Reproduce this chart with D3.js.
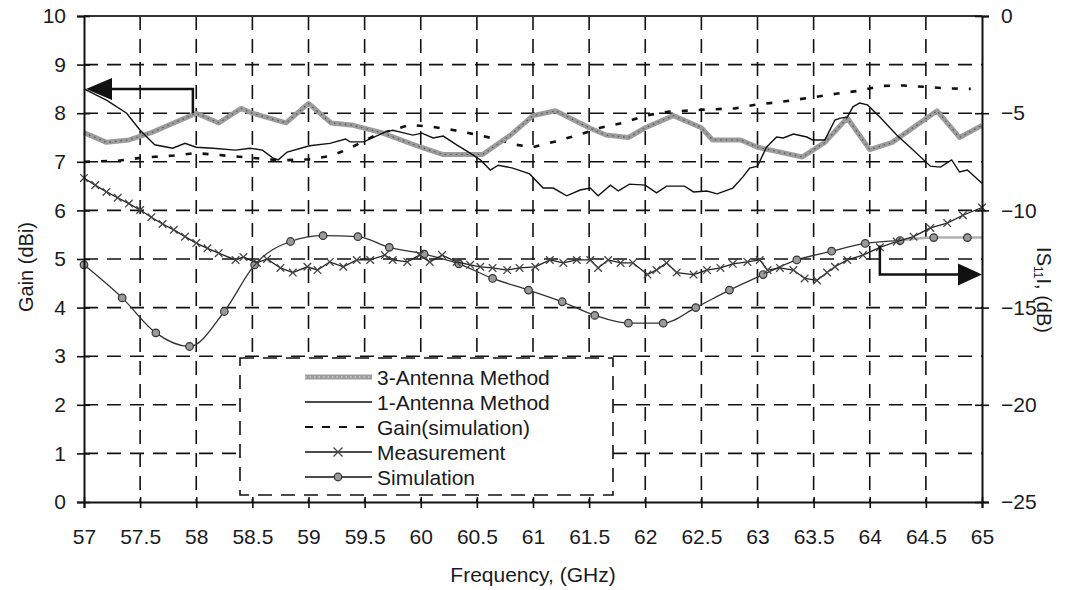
<!DOCTYPE html>
<html>
<head>
<meta charset="utf-8">
<script src="https://cdn.jsdelivr.net/npm/d3@7/dist/d3.min.js"></script>
<style>
  html, body { margin: 0; padding: 0; background: #fff; }
  svg { display: block; }
  text { font-family: "Liberation Sans", Arial, sans-serif; fill: #1a1a22; }
</style>
</head>
<body>
<svg id="chart" width="1067" height="590"></svg>
<script>
// ---------- data ----------
const xTicks = [57, 57.5, 58, 58.5, 59, 59.5, 60, 60.5, 61, 61.5, 62, 62.5, 63, 63.5, 64, 64.5, 65];
const gainTicks = [0, 1, 2, 3, 4, 5, 6, 7, 8, 9, 10];
const s11Ticks = [-25, -20, -15, -10, -5, 0];

// 3-Antenna Method (gain, dBi)
const freq3Ant = [57.0, 57.2, 57.4, 57.6, 58.0, 58.2, 58.4, 58.5, 58.8, 59.0, 59.2, 59.4, 59.65, 60.0, 60.2, 60.55, 60.8, 61.0, 61.2, 61.5, 61.65, 61.85, 62.0, 62.25, 62.5, 62.6, 62.85, 63.0, 63.4, 63.6, 63.8, 64.0, 64.2, 64.6, 64.8, 65.0];
const gain3Ant = [7.6, 7.4, 7.45, 7.6, 8.0, 7.8, 8.1, 8.0, 7.8, 8.2, 7.8, 7.75, 7.6, 7.3, 7.15, 7.15, 7.55, 7.95, 8.05, 7.7, 7.55, 7.5, 7.7, 7.95, 7.7, 7.45, 7.45, 7.3, 7.1, 7.4, 7.9, 7.25, 7.4, 8.05, 7.5, 7.75];

// 1-Antenna Method (gain, dBi)
const freq1Ant = [57.0, 57.2, 57.38, 57.5, 57.63, 57.79, 57.9, 58.0, 58.15, 58.35, 58.48, 58.59, 58.68, 58.73, 58.81, 59.01, 59.19, 59.33, 59.37, 59.49, 59.57, 59.68, 59.75, 59.82, 59.93, 60.01, 60.11, 60.2, 60.32, 60.44, 60.53, 60.62, 60.69, 60.82, 60.97, 61.09, 61.18, 61.3, 61.42, 61.51, 61.58, 61.69, 61.76, 61.86, 62.0, 62.1, 62.19, 62.35, 62.43, 62.55, 62.64, 62.78, 62.87, 62.93, 63.0, 63.08, 63.17, 63.23, 63.32, 63.44, 63.49, 63.6, 63.69, 63.74, 63.8, 63.85, 63.91, 63.98, 64.09, 64.24, 64.36, 64.54, 64.63, 64.73, 64.8, 64.87, 65.0];
const gain1Ant = [8.5, 8.27, 8.0, 7.65, 7.35, 7.28, 7.38, 7.3, 7.28, 7.24, 7.28, 7.24, 7.08, 7.04, 7.2, 7.33, 7.38, 7.47, 7.41, 7.41, 7.49, 7.61, 7.65, 7.61, 7.55, 7.59, 7.49, 7.53, 7.35, 7.18, 7.04, 6.83, 6.93, 6.87, 6.75, 6.46, 6.46, 6.3, 6.42, 6.46, 6.3, 6.52, 6.4, 6.54, 6.52, 6.36, 6.5, 6.5, 6.38, 6.4, 6.34, 6.46, 6.69, 6.87, 6.91, 7.3, 7.51, 7.49, 7.57, 7.51, 7.45, 7.45, 7.86, 7.9, 7.92, 8.13, 8.21, 8.17, 7.92, 7.55, 7.3, 6.91, 6.89, 7.04, 6.79, 6.83, 6.56];

// Gain (simulation) (gain, dBi)
const freqGainSim = [57.0, 57.3, 57.5, 57.8, 58.0, 58.3, 58.5, 58.75, 59.0, 59.2, 59.35, 59.6, 59.9, 60.1, 60.3, 60.45, 60.65, 60.85, 61.0, 61.2, 61.4, 61.6, 61.8, 62.0, 62.2, 62.5, 62.8, 63.0, 63.2, 63.5, 63.7, 63.9, 64.1, 64.3, 64.5, 64.7, 64.9];
const gainSim = [7.0, 7.02, 7.08, 7.13, 7.18, 7.12, 7.08, 7.03, 7.05, 7.12, 7.26, 7.55, 7.76, 7.72, 7.65, 7.58, 7.48, 7.35, 7.3, 7.42, 7.55, 7.7, 7.8, 7.95, 8.03, 8.07, 8.1, 8.18, 8.23, 8.33, 8.4, 8.46, 8.56, 8.57, 8.54, 8.51, 8.5];

// Measurement |S11| (dB)
const freqMeas = [57.0, 57.1, 57.2, 57.3, 57.4, 57.5, 57.6, 57.7, 57.8, 57.9, 58.0, 58.1, 58.2, 58.35, 58.42, 58.54, 58.63, 58.75, 58.86, 58.99, 59.08, 59.19, 59.31, 59.43, 59.55, 59.68, 59.75, 59.88, 59.99, 60.08, 60.19, 60.32, 60.44, 60.53, 60.64, 60.77, 60.88, 61.02, 61.15, 61.27, 61.39, 61.51, 61.58, 61.67, 61.78, 61.89, 62.02, 62.1, 62.19, 62.28, 62.43, 62.55, 62.67, 62.78, 62.91, 63.02, 63.09, 63.2, 63.32, 63.42, 63.53, 63.62, 63.69, 63.8, 63.94, 64.09, 64.24, 64.39, 64.54, 64.69, 64.83, 65.0];
const s11Meas = [-8.33, -8.7, -9.05, -9.35, -9.65, -9.98, -10.35, -10.7, -11.0, -11.35, -11.68, -11.95, -12.2, -12.55, -12.4, -12.7, -12.5, -12.96, -13.2, -12.9, -13.07, -12.65, -12.9, -12.55, -12.55, -12.3, -12.55, -12.65, -12.3, -12.65, -12.3, -12.65, -12.8, -12.9, -12.96, -13.07, -12.96, -12.9, -12.55, -12.7, -12.55, -12.55, -12.96, -12.55, -12.7, -12.7, -13.3, -13.07, -12.7, -13.2, -13.3, -13.07, -12.96, -12.75, -12.65, -12.55, -13.07, -12.96, -13.07, -13.5, -13.6, -13.2, -12.9, -12.55, -12.3, -11.9, -11.6, -11.35, -10.9, -10.65, -10.25, -9.85];

// Simulation |S11| (dB)
const freqSimS11 = [57.0, 57.34, 57.64, 57.94, 58.25, 58.52, 58.84, 59.13, 59.44, 59.72, 60.03, 60.34, 60.64, 60.96, 61.26, 61.55, 61.85, 62.16, 62.45, 62.75, 63.05, 63.35, 63.66, 63.96, 64.27, 64.57, 64.87, 65.0];
const s11Sim = [-12.8, -14.5, -16.3, -17.0, -15.2, -12.8, -11.6, -11.3, -11.35, -11.9, -12.25, -12.75, -13.5, -14.1, -14.7, -15.4, -15.8, -15.8, -15.0, -14.1, -13.3, -12.55, -12.1, -11.7, -11.55, -11.4, -11.4, -11.4];
const simMarkerCount = 27; // last point is line end only

const legendLabels = ["3-Antenna Method", "1-Antenna Method", "Gain(simulation)", "Measurement", "Simulation"];

// ---------- layout ----------
const svg = d3.select("#chart");
const L = 84, R = 982, T = 16, B = 502;
const x = d3.scaleLinear().domain([57, 65]).range([L, R]);
const yG = d3.scaleLinear().domain([0, 10]).range([B, T]);
const yS = d3.scaleLinear().domain([-25, 0]).range([B, T]);

const FONT = 21;
const DASH = "14,9";

// grid
const grid = svg.append("g");
grid.selectAll("line.v").data(xTicks.slice(1, -1)).join("line")
  .attr("x1", d => x(d)).attr("x2", d => x(d)).attr("y1", T).attr("y2", B)
  .attr("stroke", "#111").attr("stroke-width", 1.6).attr("stroke-dasharray", DASH);
grid.selectAll("line.h").data(gainTicks.slice(1, -1)).join("line")
  .attr("y1", d => yG(d)).attr("y2", d => yG(d)).attr("x1", L).attr("x2", R)
  .attr("stroke", "#111").attr("stroke-width", 1.6).attr("stroke-dasharray", DASH);
// top border
svg.append("line").attr("x1", L).attr("x2", R).attr("y1", T).attr("y2", T)
  .attr("stroke", "#333").attr("stroke-width", 2);

// ---------- series ----------
const pts = (fs, vs) => fs.map((f, i) => [f, vs[i]]);
const lineG = d3.line().x(d => x(d[0])).y(d => yG(d[1]));
const lineS = d3.line().x(d => x(d[0])).y(d => yS(d[1]));
const lineSsmooth = d3.line().x(d => x(d[0])).y(d => yS(d[1])).curve(d3.curveMonotoneX);

// Simulation S11
const simPts = pts(freqSimS11, s11Sim);
svg.append("path").datum(simPts.filter(d => d[0] <= 64.27)).attr("d", lineSsmooth)
  .attr("fill", "none").attr("stroke", "#333").attr("stroke-width", 1.3);
svg.append("path").datum(simPts.filter(d => d[0] >= 64.27)).attr("d", lineSsmooth)
  .attr("fill", "none").attr("stroke", "#b0b0b0").attr("stroke-width", 2.5);
svg.append("g").selectAll("circle").data(simPts.slice(0, simMarkerCount)).join("circle")
  .attr("cx", d => x(d[0])).attr("cy", d => yS(d[1])).attr("r", 3.8)
  .attr("fill", "#9a9a9a").attr("stroke", "#333").attr("stroke-width", 1.2);

// Measurement S11
const measPts = pts(freqMeas, s11Meas);
svg.append("path").datum(measPts).attr("d", lineS)
  .attr("fill", "none").attr("stroke", "#222").attr("stroke-width", 1.3);
const xMark = (g, cx, cy, s) => {
  g.append("path").attr("d", `M${cx - s},${cy - s}L${cx + s},${cy + s}M${cx - s},${cy + s}L${cx + s},${cy - s}`)
    .attr("stroke", "#444").attr("stroke-width", 1.3).attr("fill", "none");
};
const measG = svg.append("g");
measPts.forEach(d => xMark(measG, x(d[0]), yS(d[1]), 3.8));

// Gain simulation
svg.append("path").datum(pts(freqGainSim, gainSim)).attr("d", lineG)
  .attr("fill", "none").attr("stroke", "#111").attr("stroke-width", 2.6).attr("stroke-dasharray", "6,11");

// 3-Antenna
const p3 = pts(freq3Ant, gain3Ant);
svg.append("path").datum(p3).attr("d", lineG)
  .attr("fill", "none").attr("stroke", "#9c9c9c").attr("stroke-width", 5).attr("stroke-linejoin", "round");
svg.append("path").datum(p3).attr("d", lineG)
  .attr("fill", "none").attr("stroke", "#555").attr("stroke-width", 1.2).attr("stroke-dasharray", "1.5,4");

// 1-Antenna
svg.append("path").datum(pts(freq1Ant, gain1Ant)).attr("d", lineG)
  .attr("fill", "none").attr("stroke", "#111").attr("stroke-width", 1.4);

// ---------- arrows ----------
const arrowG = svg.append("g").attr("stroke", "#111").attr("stroke-width", 2.5).attr("fill", "none");
// left arrow: points to left axis (gain)
arrowG.append("path").attr("d", `M${x(57.97)},${yG(8.0)}V${yG(8.5)}H${x(57) + 26}`);
svg.append("path").attr("d", `M${x(57) + 2},${yG(8.5)}L${x(57) + 28},${yG(8.5) - 11}L${x(57) + 28},${yG(8.5) + 11}Z`).attr("fill", "#111");
// right arrow: points to right axis (S11)
arrowG.append("path").attr("d", `M${x(64.09)},${yS(-11.8)}V${yS(-13.3)}H${x(65) - 24}`);
svg.append("path").attr("d", `M${x(65)},${yS(-13.3)}L${x(65) - 24},${yS(-13.3) - 11}L${x(65) - 24},${yS(-13.3) + 11}Z`).attr("fill", "#111");

// ---------- axes ----------
function styleAxis(g) {
  g.select(".domain").attr("stroke", "#111").attr("stroke-width", 2);
  g.selectAll(".tick line").attr("stroke", "#111").attr("stroke-width", 1.6);
  g.selectAll(".tick text").style("font-family", '"Liberation Sans", Arial, sans-serif').style("font-size", FONT + "px").attr("fill", "#1a1a22");
}
const axL = svg.append("g").attr("transform", `translate(${L},0)`)
  .call(d3.axisLeft(yG).tickValues(gainTicks).tickSize(7).tickPadding(11).tickFormat(d3.format("d")));
styleAxis(axL);
const axLin = svg.append("g").attr("transform", `translate(${L},0)`)
  .call(d3.axisRight(yG).tickValues(gainTicks).tickSize(6).tickFormat(""));
axLin.select(".domain").remove(); axLin.selectAll("line").attr("stroke", "#111").attr("stroke-width", 1.6);

const axR = svg.append("g").attr("transform", `translate(${R},0)`)
  .call(d3.axisRight(yS).tickValues(s11Ticks).tickSize(7).tickPadding(12).tickFormat(d3.format("d")));
styleAxis(axR);
const axRin = svg.append("g").attr("transform", `translate(${R},0)`)
  .call(d3.axisLeft(yS).tickValues(s11Ticks).tickSize(7).tickFormat(""));
axRin.select(".domain").remove(); axRin.selectAll("line").attr("stroke", "#111").attr("stroke-width", 1.6);

const axB = svg.append("g").attr("transform", `translate(0,${B})`)
  .call(d3.axisBottom(x).tickValues(xTicks).tickSize(6).tickPadding(21).tickFormat(d => String(d)));
styleAxis(axB);
const axBin = svg.append("g").attr("transform", `translate(0,${B})`)
  .call(d3.axisTop(x).tickValues(xTicks).tickSize(5).tickFormat(""));
axBin.select(".domain").remove(); axBin.selectAll("line").attr("stroke", "#111").attr("stroke-width", 1.6);

// axis titles
svg.append("text").attr("transform", `translate(33,267) rotate(-90)`).attr("text-anchor", "middle")
  .style("font-size", "20px").text("Gain (dBi)");
const rt = svg.append("text").attr("transform", `translate(1037,290) rotate(90)`).attr("text-anchor", "middle")
  .style("font-size", "20px");
rt.append("tspan").text("IS");
rt.append("tspan").attr("font-size", "12px").attr("dy", "3").text("11");
rt.append("tspan").attr("dy", "-3").text("I, (dB)");
svg.append("text").attr("x", x(61)).attr("y", 582).attr("text-anchor", "middle")
  .style("font-size", "21px").text("Frequency, (GHz)");

// ---------- legend ----------
const lg = svg.append("g");
lg.append("rect").attr("x", 240).attr("y", 358).attr("width", 373).attr("height", 137)
  .attr("fill", "#fff").attr("stroke", "#111").attr("stroke-width", 1.6).attr("stroke-dasharray", DASH);
const rowY = [377, 402, 427, 452, 477];
const sx1 = 305, sx2 = 372, smid = 338;
// 3-antenna sample
lg.append("line").attr("x1", sx1).attr("x2", sx2).attr("y1", rowY[0]).attr("y2", rowY[0]).attr("stroke", "#9c9c9c").attr("stroke-width", 5);
lg.append("line").attr("x1", sx1).attr("x2", sx2).attr("y1", rowY[0]).attr("y2", rowY[0]).attr("stroke", "#eee").attr("stroke-width", 1.2).attr("stroke-dasharray", "1.5,3");
// 1-antenna
lg.append("line").attr("x1", sx1).attr("x2", sx2).attr("y1", rowY[1]).attr("y2", rowY[1]).attr("stroke", "#111").attr("stroke-width", 1.4);
// gain sim
lg.append("line").attr("x1", sx1).attr("x2", sx2).attr("y1", rowY[2]).attr("y2", rowY[2]).attr("stroke", "#111").attr("stroke-width", 2.2).attr("stroke-dasharray", "8,9");
// measurement
lg.append("line").attr("x1", sx1).attr("x2", sx2).attr("y1", rowY[3]).attr("y2", rowY[3]).attr("stroke", "#111").attr("stroke-width", 1.4);
xMark(lg, smid, rowY[3], 4.5);
// simulation
lg.append("line").attr("x1", sx1).attr("x2", sx2).attr("y1", rowY[4]).attr("y2", rowY[4]).attr("stroke", "#111").attr("stroke-width", 1.4);
lg.append("circle").attr("cx", smid).attr("cy", rowY[4]).attr("r", 3.8).attr("fill", "#9a9a9a").attr("stroke", "#333").attr("stroke-width", 1.2);
lg.selectAll("text").data(legendLabels).join("text")
  .attr("x", 377).attr("y", (d, i) => rowY[i]).attr("dy", "0.36em")
  .style("font-size", "21px").text(d => d);
</script>
</body>
</html>
